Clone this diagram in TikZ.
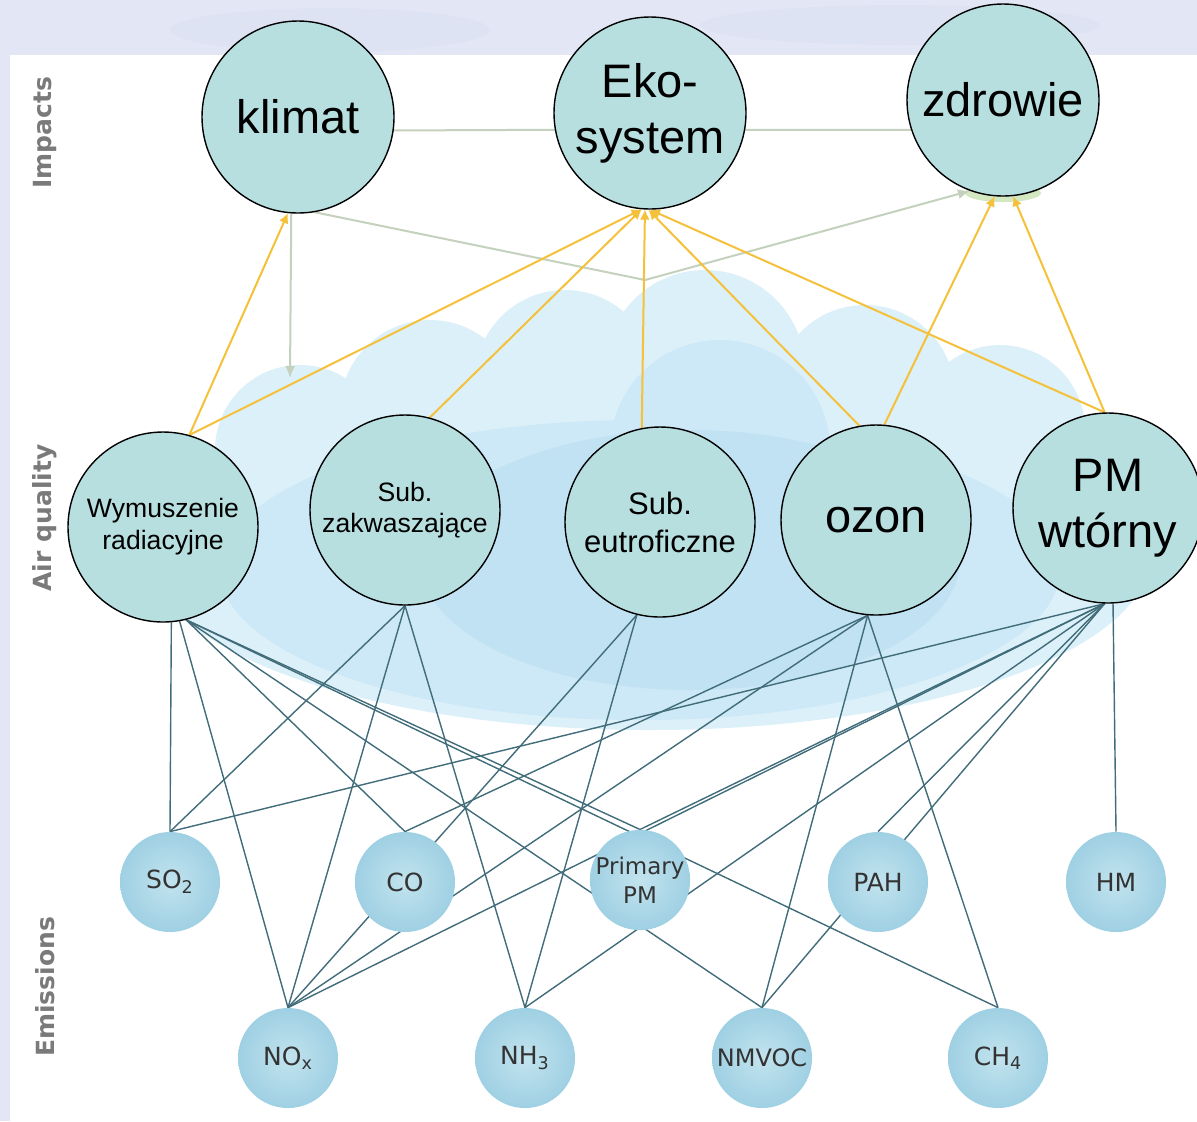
\documentclass[tikz,border=0pt]{standalone}
\usepackage{fontspec}
\setmainfont{Liberation Sans}
\newfontfamily\emfont{DejaVu Sans}
\usetikzlibrary{arrows.meta}
\definecolor{Sky}{HTML}{E3E7F5}
\definecolor{SkyDark}{HTML}{D6DCF0}
\definecolor{CloudA}{HTML}{DCF0F9}
\definecolor{CloudB}{HTML}{CDE8F6}
\definecolor{CloudC}{HTML}{C1E2F3}
\definecolor{Teal}{HTML}{B8DFE0}
\definecolor{Emis}{HTML}{9FD0E3}
\definecolor{EmisHi}{HTML}{C2E3EE}
\definecolor{Link}{HTML}{416C7A}
\definecolor{Gold}{HTML}{F5C13A}
\definecolor{Sage}{HTML}{C4D1BD}
\definecolor{Glow}{HTML}{C8E2B2}
\definecolor{Tag}{HTML}{7A7A7A}
\pgfdeclarelayer{backdrop}
\pgfdeclarelayer{wires}
\pgfsetlayers{backdrop,wires,main}
\tikzset{
  impact/.style={circle, draw=black, line width=0.7pt, fill=Teal, minimum size=96pt,
                 inner sep=0pt, align=center, font=\fontsize{23.5}{28}\selectfont},
  quality/.style={impact, minimum size=95pt},
  emis/.style={circle, inner sep=0pt, minimum size=50pt, inner color=EmisHi, outer color=Emis,
               align=center, text=black!80, font=\emfont\fontsize{12.5}{14.5}\selectfont},
  link/.style={draw=Link, line width=0.7pt},
  feed/.style={-{Latex[length=5pt,width=5pt]}, draw=Gold, line width=1pt},
  back/.style={draw=Sage, line width=1pt},
  backarrow/.style={back, -{Latex[length=6pt,width=5pt]}},
  tag/.style={rotate=90, text=Tag, font=\emfont\bfseries\fontsize{12.5}{15}\selectfont},
}
\begin{document}
\begin{tikzpicture}[x=0.5pt, y=-0.5pt]
  \useasboundingbox (0,0) rectangle (1197,1121);
  % impacts
  \node[impact] (klimat) at (298,117) {klimat};
  \node[impact] (eko) at (650,113) {Eko-\\system};
  \node[impact] (zdrowie) at (1003,100) {zdrowie};
  % air quality
  \node[quality, font=\fontsize{13.3}{16}\selectfont] (wr) at (163,527) {Wymuszenie\\radiacyjne};
  \node[quality, font=\fontsize{13.3}{15.5}\selectfont] (sz) at (405,510) {Sub.\\zakwaszające};
  \node[quality, font=\fontsize{15.5}{19}\selectfont] (se) at (660,522) {Sub.\\eutroficzne};
  \node[quality] (oz) at (876,520) {ozon};
  \node[quality] (pm) at (1108,508) {PM\\wtórny};
  % emissions
  \node[emis] (so2) at (170,882) {SO\textsubscript{2}};
  \node[emis] (co) at (405,882) {CO};
  \node[emis, font=\emfont\fontsize{11.5}{14.5}\selectfont] (ppm) at (640,880) {Primary\\PM};
  \node[emis] (pah) at (878,882) {PAH};
  \node[emis] (hm) at (1116,882) {HM};
  \node[emis] (nox) at (288,1058) {NO\textsubscript{x}};
  \node[emis] (nh3) at (525,1058) {NH\textsubscript{3}};
  \node[emis, font=\emfont\fontsize{12}{14.5}\selectfont] (nmvoc) at (762,1058) {NMVOC};
  \node[emis] (ch4) at (998,1058) {CH\textsubscript{4}};
  % side tags
  \node[tag] (timp) at (45,133) {Impacts};
  \node[tag] (tair) at (45,518) {Air quality};
  \node[tag] (temi) at (45,987) {Emissions};

  \begin{pgfonlayer}{backdrop}
    \fill[Sky] (0,0) rectangle (1197,1121);
    \fill[SkyDark, opacity=0.35] (330,30) ellipse [x radius=160, y radius=22];
    \fill[SkyDark, opacity=0.35] (900,25) ellipse [x radius=200, y radius=20];
    \fill[white] (10,55) rectangle (1197,1121);
    % cloud
    \fill[CloudA] (300,450) circle [radius=85];
    \fill[CloudA] (430,410) circle [radius=90];
    \fill[CloudA] (565,380) circle [radius=90];
    \fill[CloudA] (705,370) circle [radius=100];
    \fill[CloudA] (865,395) circle [radius=90];
    \fill[CloudA] (1000,430) circle [radius=85];
    \fill[CloudA] (1095,490) circle [radius=75];
    \fill[CloudA] (650,555) ellipse [x radius=500, y radius=175];
    \fill[CloudB] (640,570) ellipse [x radius=420, y radius=150];
    \fill[CloudB] (720,450) circle [radius=110];
    \fill[CloudC] (690,560) ellipse [x radius=270, y radius=130];
  \end{pgfonlayer}

  \begin{pgfonlayer}{wires}
    \fill[Glow, opacity=0.8] (1003,193) ellipse [x radius=38, y radius=9];
    % impacts among themselves
    \draw[back] (klimat.-8) -- (eko.190);
    \draw[back] (eko.-10) -- (zdrowie.198);
    \coordinate (kdown) at (290,378);
    \coordinate (kbend) at (645,280);
    \draw[backarrow] (klimat.-94) -- (kdown);
    \draw[backarrow] (klimat.-80) -- (kbend) -- (zdrowie.-110);
    % air quality to impacts
    \draw[feed] (wr.74) -- (klimat.-96);
    \draw[feed] (wr.74) -- (eko.-95);
    \draw[feed] (sz.75) -- (eko.-95);
    \draw[feed] (se.101) -- (eko.-93);
    \draw[feed] (oz.100) -- (eko.-91);
    \draw[feed] (pm.92) -- (eko.-90);
    \draw[feed] (oz.85) -- (zdrowie.-95);
    \draw[feed] (pm.92) -- (zdrowie.-84);
    % emissions to air quality
    \draw[link] (wr.-85) -- (so2.north);
    \draw[link] (wr.-80) -- (nox.north);
    \draw[link] (wr.-76) -- (co.north);
    \draw[link] (wr.-76) -- (ppm.north);
    \draw[link] (wr.-76) -- (nmvoc.north);
    \draw[link] (wr.-76) -- (ch4.north);
    \draw[link] (sz.south) -- (so2.north);
    \draw[link] (sz.south) -- (nox.north);
    \draw[link] (sz.south) -- (nh3.north);
    \draw[link] (se.-104) -- (nox.north);
    \draw[link] (se.-104) -- (nh3.north);
    \draw[link] (oz.-95) -- (nox.north);
    \draw[link] (oz.-95) -- (co.north);
    \draw[link] (oz.-95) -- (nmvoc.north);
    \draw[link] (oz.-95) -- (ch4.north);
    \draw[link] (pm.-92) -- (so2.north);
    \draw[link] (pm.-92) -- (nox.north);
    \draw[link] (pm.-92) -- (nh3.north);
    \draw[link] (pm.-92) -- (ppm.north);
    \draw[link] (pm.-92) -- (pah.north);
    \draw[link] (pm.-92) -- (nmvoc.north);
    \draw[link] (pm.-87) -- (hm.north);
  \end{pgfonlayer}
\end{tikzpicture}
\end{document}
